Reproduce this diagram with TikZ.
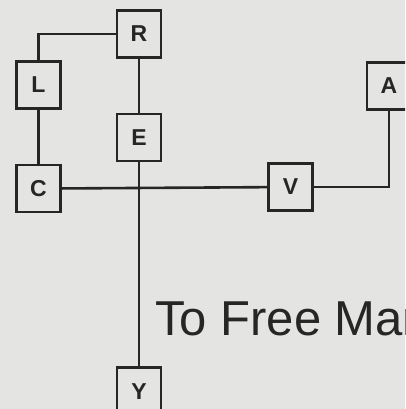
\documentclass[tikz,border=0pt]{standalone}
\usepackage{fontspec}
\setmainfont{Liberation Sans}
\usepackage{tikz}
\usetikzlibrary{positioning}
\definecolor{paper}{HTML}{E4E4E2}
\definecolor{ink}{HTML}{262626}

\begin{document}
\begin{tikzpicture}[
  x=1pt,y=1pt,
  node distance=54pt,
  every node/.style={text=ink},
  letter/.style={draw=ink,line width=2.6pt,fill=paper,inner sep=0pt,
                 minimum width=44pt,minimum height=47pt,
                 font=\fontsize{23}{23}\selectfont\bfseries},
  wire/.style={draw=ink,line width=2.6pt}
]
% page
\fill[paper] (0,0) rectangle (405,-409);
\clip (0,0) rectangle (405,-409);

\node[letter] (R) at (139,-34) {R};
\node[letter,below=of R] (E) {E};
\node[letter] (L) at (38.5,-85) {L};
\node[letter,below=of L] (C) {C};
\node[letter] (V) at (290.5,-187) {V};
\node[letter] (A) at (389,-86) {A};
\node[letter,below=204pt of E] (Y) {Y};

\draw[wire] (R.west) -| (L.north);
\draw[wire] (R)--(E);
\draw[wire] (L)--(C);
\draw[wire] (E)--(Y);
\draw[wire] (C)--(V);
\draw[wire] (V.east) -| (A.south);

\node[anchor=base west,inner sep=0pt,font=\fontsize{49}{52}\selectfont]
  (title) at (155,-335) {To Free Man};
\end{tikzpicture}
\end{document}
